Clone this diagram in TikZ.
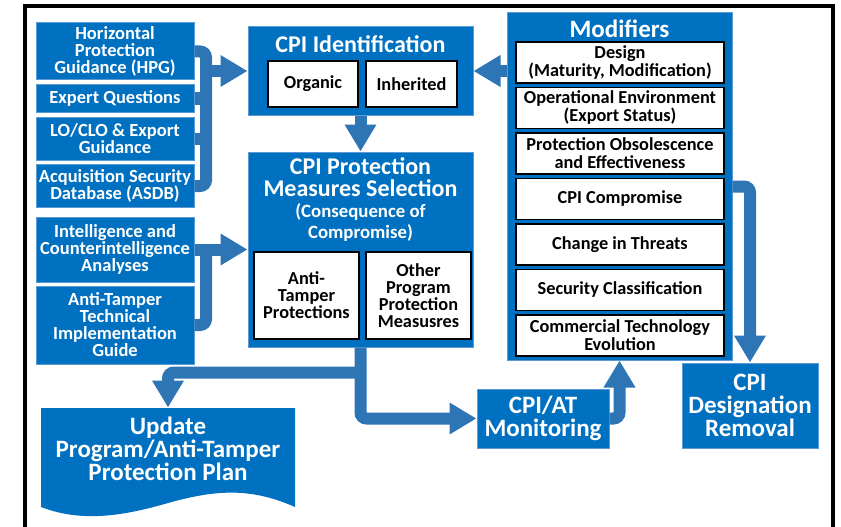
\documentclass[tikz,border=0pt]{standalone}
\usepackage{fontspec}
\setmainfont{Carlito}
\usetikzlibrary{positioning,arrows.meta}
\definecolor{boxblue}{RGB}{0,112,192}
\definecolor{pipeblue}{RGB}{46,117,182}
\definecolor{rimblue}{RGB}{91,155,213}

\begin{document}
\begin{tikzpicture}[x=1pt,y=-1pt,node distance=3.5pt,
    blue node/.style={rectangle,fill=boxblue,draw=rimblue,line width=1pt,text=white,align=center,inner sep=0pt,font=\bfseries\fontsize{18.5}{17}\selectfont},
    side node/.style={blue node,minimum width=158pt},
    big node/.style={blue node,font=\bfseries\fontsize{25}{23}\selectfont},
    white node/.style={rectangle,fill=white,draw=black,line width=2pt,align=center,inner sep=0pt,font=\bfseries\fontsize{18.3}{17}\selectfont},
    mod node/.style={white node,line width=1.5pt,minimum width=208pt,minimum height=41pt,font=\bfseries\fontsize{18.3}{18}\selectfont},
    title node/.style={text=white,align=center,inner sep=0pt,font=\bfseries\fontsize{24}{22}\selectfont},
    pipe/.style={draw=pipeblue,line width=12pt,rounded corners=6pt},
    flow/.style={pipe,-{Triangle[length=27pt,width=30pt]}}]
    \useasboundingbox (0,0) rectangle (841,527);
    \draw[line width=4pt] (25,527) -- (25,6) -- (833,6) -- (833,527);

    % sources on the left
    \node[side node,minimum height=57pt] (hpg) at (115,51.5) {Horizontal\\Protection\\Guidance (HPG)};
    \node[side node,minimum height=28pt] (eq) [below=of hpg] {Expert Questions};
    \node[side node,minimum height=43pt] (lo) [below=of eq] {LO/CLO \& Export\\Guidance};
    \node[side node,minimum height=43pt] (asdb) [below=of lo] {Acquisition Security\\Database (ASDB)};
    \node[side node,minimum height=65pt] (intel) at (115,249.5) {Intelligence and\\Counterintelligence\\Analyses};
    \node[side node,minimum height=78pt] (atg) [below=3pt of intel] {Anti-Tamper\\Technical\\Implementation\\Guide};

    % CPI identification
    \node[blue node,minimum width=225pt,minimum height=88pt] (cpiid) at (360.5,71) {};
    \node[title node] (cpiidtitle) at (360.5,44) {CPI Identification};
    \node[white node,minimum width=90pt,minimum height=46pt] (organic) at (313,84) {Organic};
    \node[white node,minimum width=91pt,minimum height=46pt] (inherited) [right=6pt of organic] {Inherited};

    % CPI protection measures
    \node[blue node,minimum width=225pt,minimum height=195pt] (cpips) at (360.5,249.5) {};
    \node[title node] (cpipstitle) at (360.5,177) {CPI Protection\\Measures Selection};
    \node[title node,font=\bfseries\fontsize{18.8}{21}\selectfont] (cpipssub) at (360.5,222) {(Consequence of\\Compromise)};
    \node[white node,minimum width=105pt,minimum height=87pt] (antitamper) at (306.5,295.5) {Anti-\\Tamper\\Protections};
    \node[white node,minimum width=105pt,minimum height=87pt] (other) [right=5pt of antitamper] {Other\\Program\\Protection\\Measusres};

    % modifiers
    \node[blue node,minimum width=225pt,minimum height=347pt] (mods) at (619.5,186.5) {};
    \node[title node,font=\bfseries\fontsize{25}{22}\selectfont] (modstitle) at (619.5,29) {Modifiers};
    \node[mod node] (design) at (620,62.5) {Design\\(Maturity, Modification)};
    \node[mod node] (openv) [below=3pt of design] {Operational Environment\\(Export Status)};
    \node[mod node] (obsol) [below=3pt of openv] {Protection Obsolescence\\and Effectiveness};
    \node[mod node] (compromise) [below=3pt of obsol] {CPI Compromise};
    \node[mod node] (threats) [below=3pt of compromise] {Change in Threats};
    \node[mod node] (classif) [below=3pt of threats] {Security Classification};
    \node[mod node] (commtech) [below=3pt of classif] {Commercial Technology\\Evolution};

    % results
    \node[big node,minimum width=136pt,minimum height=85pt] (removal) at (750,405.5) {CPI\\Designation\\Removal};
    \node[big node,minimum width=132pt,minimum height=59pt] (monitor) at (543,418.5) {CPI/AT\\Monitoring};
    \fill[boxblue] (41,408) -- (295,408) -- (295,507) .. controls (250,487) and (215,490) .. (168,503)
        .. controls (120,517) and (80,522) .. (41,507) -- cycle;
    \node[big node,fill=none,draw=none,minimum width=254pt,minimum height=82pt] (update) at (168,449) {Update\\Program/Anti-Tamper\\Protection Plan};

    % connectors
    \coordinate (bk) at (206,0);
    \draw[pipe] (hpg.east) -- (hpg.east -| bk) -- (asdb.east -| bk) -- (asdb.east);
    \draw[pipe] (eq.east) -- (eq.east -| bk);
    \draw[pipe] (lo.east) -- (lo.east -| bk);
    \draw[flow] (bk |- cpiid.west) -- (cpiid.west);
    \draw[pipe] (atg.east) -| (bk |- intel.east);
    \draw[flow] (intel.east) -- (cpips.west);
    \draw[flow] (cpiid.south) -- (cpips.north);
    \draw[flow] (mods.west |- cpiid.east) -- (cpiid.east);
    \draw[flow] (mods.east) -| (removal.north);
    \draw[flow] (monitor.east) -| (mods.south);
    \coordinate[yshift=-25pt] (split) at (cpips.south);
    \draw[flow] (cpips.south) |- (monitor.west);
    \draw[flow] (split) -| (update.north);
\end{tikzpicture}
\end{document}
